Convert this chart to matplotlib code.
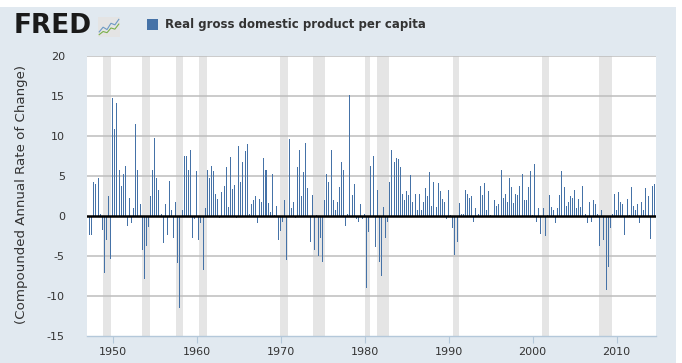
import numpy as np
import matplotlib
matplotlib.use("Agg")
import matplotlib.pyplot as plt
from matplotlib.patches import Rectangle

plt.rcParams["axes.unicode_minus"] = False

# Quarterly growth of real GDP per capita, compounded annual rate (%)
# first value is 1947 Q2, last is 2014 Q3
growth = [
    -2.4, -2.4, 4.25,                # 1947
    4.0, 4.75, 0.3, -1.7,            # 1948
    -7.1, -3.0, 2.5, -5.4,           # 1949
    14.7, 10.9, 14.1, 5.8,           # 1950
    3.75, 5.2, 6.3, -1.2,            # 1951
    2.3, -0.9, 1.0, 11.5,            # 1952
    5.8, 1.5, -4.2, -7.9,            # 1953
    -3.7, -1.4, 2.5, 5.7,            # 1954
    9.8, 4.75, 3.3, 0.25,            # 1955
    -3.4, 1.5, -2.4, 4.4,            # 1956
    0.7, -2.7, 1.8, -5.9,            # 1957
    -11.5, 0.8, 7.5, 7.5,            # 1958
    5.7, 8.2, -2.7, -0.4,            # 1959
    5.6, -3.0, -0.9, -6.7,           # 1960
    1.0, 5.8, 4.8, 6.3,              # 1961
    5.6, 2.7, 2.1, -0.3,             # 1962
    3.0, 3.75, 6.1, 1.1,             # 1963
    7.4, 3.4, 3.9, -0.2,             # 1964
    8.8, 4.2, 6.7, 8.1,              # 1965
    9.0, 0.3, 1.5, 2.0,              # 1966
    2.5, -0.9, 2.1, 1.8,             # 1967
    7.2, 5.7, 1.6, 0.5,              # 1968
    5.2, 0.1, 1.2, -3.0,             # 1969
    -1.9, -0.8, 2.0, -5.5,           # 1970
    9.6, 1.0, 1.7, -0.25,            # 1971
    6.1, 8.3, 2.5, 5.5,              # 1972
    9.1, 3.5, -3.3, 2.6,             # 1973
    -4.3, 0.1, -5.0, -2.8,           # 1974
    -5.7, 2.0, 5.3, 4.2,             # 1975
    8.2, 2.0, 0.8, 1.7,              # 1976
    3.6, 6.8, 5.8, -1.3,             # 1977
    0.2, 15.1, 2.6, 4.0,             # 1978
    -0.4, -0.8, 1.5, -0.4,           # 1979
    0.2, -9.0, -2.0, 6.2,            # 1980
    7.5, -3.9, 3.3, -5.8,            # 1981
    -7.5, 1.1, -2.7, -0.8,           # 1982
    4.2, 8.3, 6.7, 7.2,              # 1983
    7.1, 6.1, 2.7, 2.0,              # 1984
    3.1, 2.6, 5.1, 1.8,              # 1985
    2.7, 0.7, 2.8, 0.8,              # 1986
    1.8, 3.5, 2.5, 5.5,              # 1987
    1.2, 4.3, 1.1, 4.1,              # 1988
    3.1, 2.1, 1.7, -0.4,             # 1989
    3.2, 0.1, -1.5, -4.9,            # 1990
    -3.3, 1.6, 0.2, 0.2,             # 1991
    3.3, 2.8, 2.2, 2.5,              # 1992
    -0.7, 1.0, 0.3, 3.8,             # 1993
    2.6, 4.1, 0.8, 3.1,              # 1994
    0.1, -0.1, 2.0, 1.3,             # 1995
    1.5, 5.7, 2.2, 2.7,              # 1996
    1.7, 4.7, 3.6, 1.6,              # 1997
    2.7, 2.6, 3.8, 5.2,              # 1998
    2.0, 2.0, 3.6, 5.6,              # 1999
    0.1, 6.5, -0.8, 1.0,             # 2000
    -2.3, 1.0, -2.5, 0.1,            # 2001
    2.6, 1.1, 0.7, -0.9,             # 2002
    1.0, 2.6, 5.6, 3.6,              # 2003
    1.3, 1.8, 2.5, 2.2,              # 2004
    3.2, 1.0, 2.1, 1.1,              # 2005
    3.7, 0.2, -0.9, 1.8,             # 2006
    -0.8, 2.0, 1.5, 0.2,             # 2007
    -3.8, 0.8, -3.0, -9.2,           # 2008
    -6.4, -1.5, 0.2, 2.7,            # 2009
    0.7, 3.0, 1.7, 1.5,              # 2010
    -2.4, 2.1, 0.1, 3.6,             # 2011
    1.3, 0.7, 1.5, -0.9,             # 2012
    1.8, 0.8, 3.5, 2.5,              # 2013
    -2.9, 3.7, 4.0,                  # 2014
]
first_quarter = 1947.25

# NBER recessions (peak month, trough month)
recessions = [
    ((1948, 11), (1949, 10)), ((1953, 7), (1954, 5)), ((1957, 8), (1958, 4)),
    ((1960, 4), (1961, 2)), ((1969, 12), (1970, 11)), ((1973, 11), (1975, 3)),
    ((1980, 1), (1980, 7)), ((1981, 7), (1982, 11)), ((1990, 7), (1991, 3)),
    ((2001, 3), (2001, 11)), ((2007, 12), (2009, 6)),
]

x_ticks = [1950, 1960, 1970, 1980, 1990, 2000, 2010]
y_ticks = [-15, -10, -5, 0, 5, 10, 15, 20]
series_name = "Real gross domestic product per capita"
y_label = "(Compounded Annual Rate of Change)"

panel_bg = "#e1e9f0"
bar_color = "#4572a7"
text_color = "#333333"

W, H = 682, 363
fig = plt.figure(figsize=(W / 100, H / 100), dpi=100, facecolor="white")
# light blue panel (white strip on top and at the right edge)
fig.patches.append(Rectangle((0, 0), 676 / W, (H - 7) / H, transform=fig.transFigure,
                             facecolor=panel_bg, edgecolor="none", zorder=-10))

ax = fig.add_axes([87 / W, 27 / H, 569 / W, 280 / H])
ax.set_facecolor("white")

quarters = first_quarter + np.arange(len(growth)) * 0.25

for (y0, m0), (y1, m1) in recessions:
    ax.axvspan(y0 + (m0 - 1) / 12, y1 + m1 / 12, color="#e5e5e5", lw=0, zorder=0)

for yv in y_ticks:
    if yv not in (-15, 0):
        ax.axhline(yv, color="#bdbdbd", lw=1.1, zorder=1)

ax.bar(quarters, growth, width=0.12, color=bar_color, linewidth=0, zorder=2,
       antialiased=False)
ax.axhline(0, color="black", lw=1.8, zorder=3)

ax.set_xlim(1946.93, 2014.70)
ax.set_ylim(-15, 20)
ax.set_xticks(x_ticks)
ax.set_yticks(y_ticks)
ax.tick_params(axis="x", length=5, color="#b4c8da", labelsize=8, labelcolor=text_color, pad=3)
ax.tick_params(axis="y", length=0, labelsize=8, labelcolor=text_color, pad=16)

for side in ["top", "right", "left"]:
    ax.spines[side].set_visible(False)
ax.spines["bottom"].set_color("#b4c8da")
ax.spines["bottom"].set_linewidth(1)

fig.text(22 / W, 1 - 194 / H, y_label, rotation=90, ha="center", va="center",
         fontsize=9.6, color=text_color)

# header: FRED logo and legend
fig.text(14 / W, 1 - 26 / H, "FRED", ha="left", va="center", fontsize=19,
         fontweight="heavy", color="#1a1a1a")
icon = fig.add_axes([98 / W, 1 - 37 / H, 22 / W, 20 / H])
icon.set_facecolor("#e4e4e4")
for s in icon.spines.values():
    s.set_visible(False)
icon.set_xticks([])
icon.set_yticks([])
icon.plot([0, 1, 2, 3, 4, 5], [1, 2.2, 1.6, 3.2, 2.8, 4.2], color="#6d9ac4", lw=0.8)
icon.plot([0, 1, 2, 3, 4, 5], [0.3, 1.1, 0.8, 2.0, 1.7, 3.0], color="#7ab04a", lw=0.8)
icon.set_xlim(-0.3, 5.3)
icon.set_ylim(-0.3, 4.8)

fig.patches.append(Rectangle((147 / W, 1 - 30 / H), 11 / W, 11 / H, transform=fig.transFigure,
                             facecolor=bar_color, edgecolor="none"))
fig.text(165 / W, 1 - 24.5 / H, series_name, ha="left", va="center", fontsize=8.5,
         fontweight="bold", color=text_color)

fig.savefig("out.png", dpi=100, facecolor=fig.get_facecolor())
